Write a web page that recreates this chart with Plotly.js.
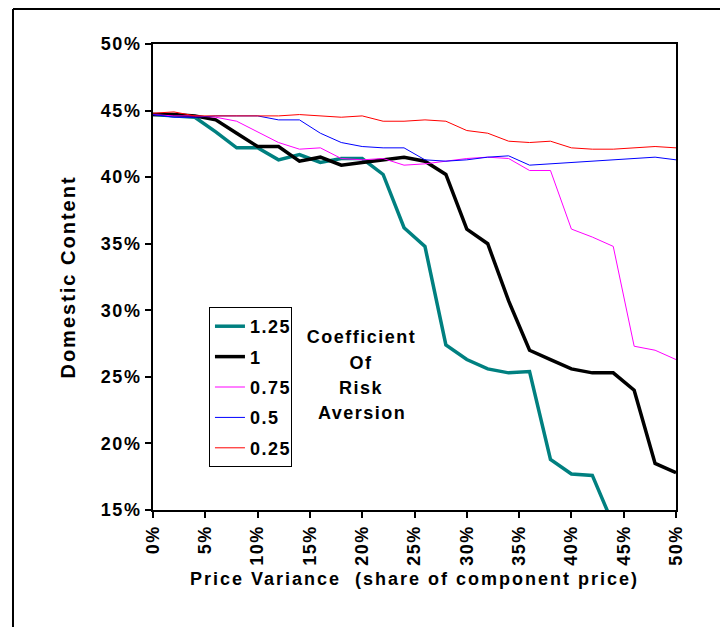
<!DOCTYPE html>
<html>
<head>
<meta charset="utf-8">
<script src="https://cdn.plot.ly/plotly-3.0.1.min.js"></script>
<style>
  html, body { margin: 0; padding: 0; background: #fff; }
  #chart { width: 720px; height: 627px; }
  #chart text { letter-spacing: 1.5px; }
  #chart .g-xtitle text, #chart .g-ytitle text { letter-spacing: 2px; }
</style>
</head>
<body>
<div id="chart"></div>
<script>
// Price variance (share of component price)
const priceVariance = [0.00, 0.02, 0.04, 0.06, 0.08, 0.10, 0.12, 0.14, 0.16, 0.18, 0.20, 0.22, 0.24,
                       0.26, 0.28, 0.30, 0.32, 0.34, 0.36, 0.38, 0.40, 0.42, 0.44, 0.46, 0.48, 0.50];

// Domestic content by coefficient of risk aversion
const risk125 = [0.447, 0.446, 0.445, 0.434, 0.422, 0.422, 0.413, 0.417, 0.411, 0.414, 0.414, 0.402, 0.362,
                 0.348, 0.274, 0.263, 0.256, 0.253, 0.254, 0.188, 0.177, 0.176, 0.139];
const risk100 = [0.447, 0.447, 0.446, 0.443, 0.433, 0.423, 0.423, 0.412, 0.415, 0.409, 0.411, 0.413, 0.415,
                 0.412, 0.402, 0.361, 0.350, 0.307, 0.270, 0.263, 0.256, 0.253, 0.253, 0.240, 0.185, 0.178];
const risk075 = [0.447, 0.446, 0.446, 0.445, 0.442, 0.434, 0.426, 0.421, 0.422, 0.414, 0.413, 0.414, 0.409,
                 0.410, 0.412, 0.414, 0.415, 0.414, 0.405, 0.405, 0.361, 0.355, 0.348, 0.273, 0.270, 0.263];
const risk050 = [0.447, 0.445, 0.445, 0.446, 0.446, 0.446, 0.443, 0.443, 0.433, 0.426, 0.423, 0.422, 0.422,
                 0.413, 0.412, 0.413, 0.415, 0.416, 0.409, 0.410, 0.411, 0.412, 0.413, 0.414, 0.415, 0.413];
const risk025 = [0.448, 0.449, 0.446, 0.446, 0.446, 0.446, 0.446, 0.447, 0.446, 0.445, 0.446, 0.442, 0.442,
                 0.443, 0.442, 0.435, 0.433, 0.427, 0.426, 0.427, 0.422, 0.421, 0.421, 0.422, 0.423, 0.422];

const seriesNames = ['1.25', '1', '0.75', '0.5', '0.25'];
const seriesValues = [risk125, risk100, risk075, risk050, risk025];
const seriesColors = ['#008080', '#000000', '#FF00FF', '#0000FF', '#FF0000'];
const seriesWidths = [3.5, 3.5, 1, 1, 1];

const xTicks = [0, 0.05, 0.10, 0.15, 0.20, 0.25, 0.30, 0.35, 0.40, 0.45, 0.50];
const yTicks = [0.15, 0.20, 0.25, 0.30, 0.35, 0.40, 0.45, 0.50];

const noteLines = ['Coefficient', 'Of', 'Risk', 'Aversion'];
const noteY = [0.3712, 0.3155, 0.2618, 0.2082];

const FONT = 'Liberation Sans, Arial, Helvetica, sans-serif';

const traces = seriesNames.map((name, i) => ({
  type: 'scatter',
  mode: 'lines',
  name: name,
  legendgroup: 'g' + i,
  x: priceVariance.slice(0, seriesValues[i].length),
  y: seriesValues[i],
  line: { color: seriesColors[i], width: seriesWidths[i] }
}));

const layout = {
  width: 720,
  height: 627,
  margin: { l: 153, r: 44, t: 44, b: 117, pad: 0 },
  paper_bgcolor: '#ffffff',
  plot_bgcolor: '#ffffff',
  font: { family: FONT, size: 18, color: '#000', weight: 'bold' },
  showlegend: true,
  legend: {
    x: 0.107, y: 0.4356, xanchor: 'left', yanchor: 'top',
    bgcolor: '#ffffff', bordercolor: '#000', borderwidth: 1,
    font: { family: FONT, size: 18, color: '#000', weight: 'bold' },
    tracegroupgap: 4
  },
  xaxis: {
    range: [0, 0.5],
    tickvals: xTicks,
    tickformat: '.0%',
    tickangle: -90,
    ticks: 'outside', ticklen: 6, tickwidth: 2, tickcolor: '#000',
    showline: true, linecolor: '#000', linewidth: 2, mirror: true,
    showgrid: false, zeroline: false,
    tickfont: { family: FONT, size: 18, color: '#000', weight: 'bold' },
    title: { text: 'Price Variance  (share of component price)',
             font: { family: FONT, size: 18, color: '#000', weight: 'bold' }, standoff: 12 }
  },
  yaxis: {
    range: [0.15, 0.50],
    tickvals: yTicks,
    tickformat: '.0%',
    ticks: 'outside', ticklen: 6, tickwidth: 2, tickcolor: '#000',
    showline: true, linecolor: '#000', linewidth: 2, mirror: true,
    showgrid: false, zeroline: false,
    tickfont: { family: FONT, size: 18, color: '#000', weight: 'bold' },
    title: { text: 'Domestic Content',
             font: { family: FONT, size: 20, color: '#000', weight: 'bold' }, standoff: 24 }
  },
  annotations: noteLines.map((t, i) => ({
    xref: 'paper', yref: 'paper', x: 0.3996, y: noteY[i],
    xanchor: 'center', yanchor: 'middle', showarrow: false, align: 'center',
    text: t,
    font: { family: FONT, size: 18, color: '#000', weight: 'bold' }
  })),
  shapes: [
    { type: 'line', xref: 'paper', yref: 'paper', x0: -0.2677, x1: 1.2, y0: 1.0751, y1: 1.0751,
      line: { color: '#000', width: 2 } },
    { type: 'line', xref: 'paper', yref: 'paper', x0: -0.2677, x1: -0.2677, y0: 1.0751, y1: -0.4,
      line: { color: '#000', width: 2 } }
  ]
};

Plotly.newPlot('chart', traces, layout, { displayModeBar: false, staticPlot: true });
</script>
</body>
</html>
